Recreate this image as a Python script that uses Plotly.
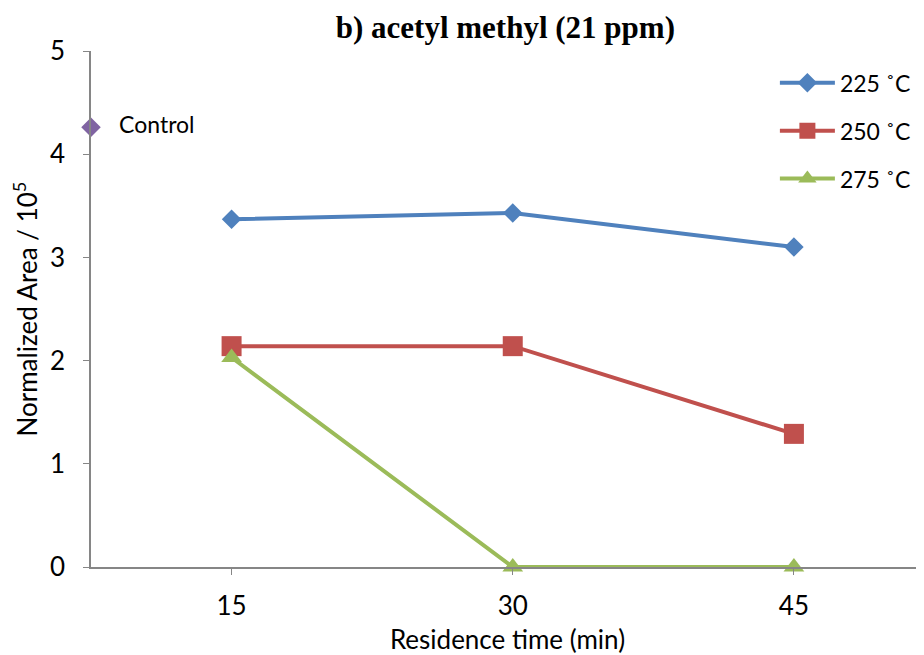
import plotly.graph_objects as go

times = [15, 30, 45]
s225 = [3.37, 3.43, 3.10]
s250 = [2.14, 2.14, 1.29]
s275 = [2.03, 0.0, 0.0]
control_x = [7.5]
control_y = [4.26]
series_names = ["225 ˚C", "250 ˚C", "275 ˚C"]
colors = ["#4F81BD", "#C0504D", "#9BBB59"]
symbols = ["diamond", "square", "triangle-up"]
msizes = [15, 20, 18]

FONT = "Lato, 'Open Sans', sans-serif"

fig = go.Figure()
for name, ys, c, sym, ms in zip(series_names, [s225, s250, s275], colors, symbols, msizes):
    fig.add_trace(go.Scatter(
        x=times, y=ys, name=name, mode="lines+markers",
        line=dict(color=c, width=4),
        marker=dict(symbol=sym, size=ms, color=c),
        legendgroup=name, cliponaxis=False,
    ))

fig.add_trace(go.Scatter(
    x=control_x, y=control_y, mode="markers+text", text=["   Control"],
    textposition="middle right", textfont=dict(size=23, color="black", family=FONT),
    marker=dict(symbol="diamond", size=15, color="#8064A2"),
    showlegend=False, cliponaxis=False,
))

fig.update_layout(
    width=916, height=647,
    margin=dict(l=83, r=0, t=43, b=88),
    paper_bgcolor="white", plot_bgcolor="white",
    font=dict(family=FONT, size=23, color="black"),
    title=dict(text="<b>b) acetyl methyl (21 ppm)</b>", x=0.543, xanchor="center",
               y=0.971, yanchor="middle", automargin=False,
               font=dict(family="'Liberation Serif', 'Times New Roman', serif", size=31, color="black")),
    showlegend=True,
    legend=dict(x=0.821, y=0.98, xanchor="left", yanchor="top", tracegroupgap=15,
                font=dict(size=23, family=FONT), itemwidth=55, bgcolor="rgba(0,0,0,0)"),
)
fig.update_xaxes(
    range=[7.5, 51.94], tickvals=times, ticktext=[str(t) for t in times],
    automargin=False,
    showline=True, linecolor="#868686", linewidth=1.5, ticks="outside", ticklen=6,
    tickcolor="#868686", showgrid=False, zeroline=False,
    ticklabelstandoff=9, tickfont=dict(size=26),
    title=dict(text="Residence time (min)", font=dict(size=26), standoff=16),
)
fig.update_yaxes(
    range=[0, 5], dtick=1, automargin=False,
    showline=True, linecolor="#868686", linewidth=1.5,
    ticks="outside", ticklen=6, tickcolor="#868686", showgrid=False, zeroline=False,
    ticklabelstandoff=13, tickfont=dict(size=26),
    title=dict(text="Normalized Area / 10<sup>5</sup>", font=dict(size=26), standoff=12),
)

fig.write_html("out.html")
